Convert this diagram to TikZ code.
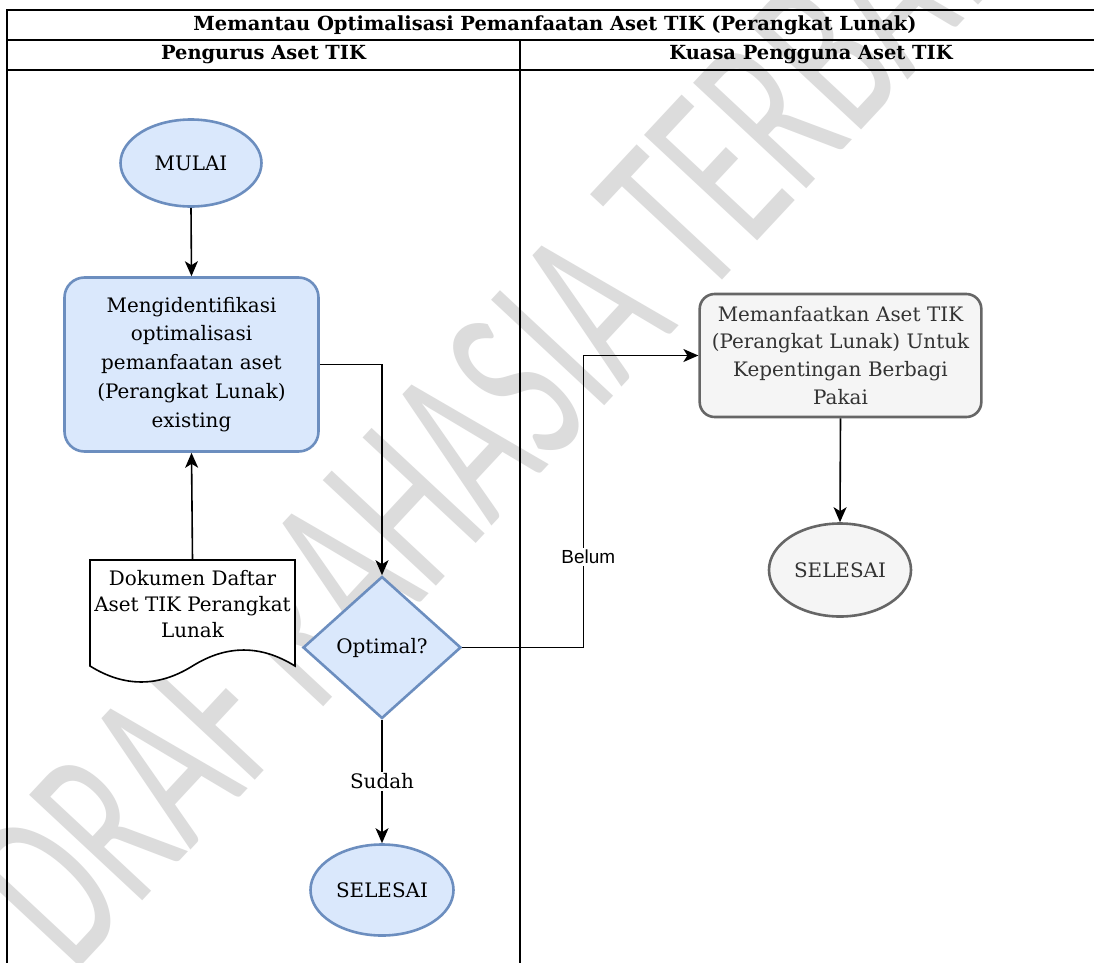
\documentclass[tikz,border=0pt]{standalone}
\usepackage{fontspec}
\setmainfont{DejaVu Serif}
\setsansfont{Liberation Sans}
\newfontfamily\wmfont{Carlito}
\usetikzlibrary{arrows.meta,shapes.geometric}
\definecolor{bluefill}{HTML}{DAE8FC}
\definecolor{bluedraw}{HTML}{6C8EBF}
\definecolor{grayfill}{HTML}{F5F5F5}
\definecolor{graydraw}{HTML}{666666}
\definecolor{graytext}{HTML}{333333}
\definecolor{wmgray}{HTML}{DCDCDC}

\begin{document}
\begin{tikzpicture}[x=1bp,y=-1bp,
  txt/.style={font=\fontsize{20}{29}\selectfont, align=center},
  hdr/.style={font=\bfseries\fontsize{19.5}{23}\selectfont},
  lane/.style={line width=1.6bp},
  flow/.style={line width=1.6bp, -{Stealth[length=15bp,width=13bp,inset=4bp]}},
  bluenode/.style={draw=bluedraw, fill=bluefill, line width=2.6bp, txt},
  graynode/.style={draw=graydraw, fill=grayfill, line width=2.6bp, txt, text=graytext},
  terminal/.style={ellipse, inner sep=0pt},
  lbl/.style={fill=white, inner sep=2bp},
]
\useasboundingbox (0,0) rectangle (1094,963);
\clip (0,0) rectangle (1094,963);
\fill[white] (0,0) rectangle (1094,963);

% watermark behind everything
\node[rotate=47, xscale=0.61, text=wmgray, inner sep=0pt,
  font=\wmfont\fontsize{242}{242}\selectfont] (wm) at (532,370) {DRAF RAHASIA TERBATAS};

% swimlane frame
\draw[lane] (7,10) rectangle (1102,980);
\draw[lane] (7,40) -- (1102,40);
\draw[lane] (7,70) -- (1102,70);
\draw[lane] (520,40) -- (520,980);
\node[hdr] (title) at (555,25) {Memantau Optimalisasi Pemanfaatan Aset TIK (Perangkat Lunak)};
\node[hdr] (lane1) at (263.5,55) {Pengurus Aset TIK};
\node[hdr] (lane2) at (811,55) {Kuasa Pengguna Aset TIK};

% left lane
\node[bluenode, terminal, minimum width=141bp, minimum height=87bp] (start) at (191,163) {MULAI};
\node[bluenode, rectangle, rounded corners=20bp, minimum width=254bp, minimum height=174bp, text width=245bp] (ident) at (191.5,364.5)
  {Mengidentifikasi\\ optimalisasi\\ pemanfaatan aset\\ (Perangkat Lunak)\\ existing};

% document shape
\node[minimum width=205bp, minimum height=124bp, inner sep=0pt] (doc) at (192.5,622) {};
\draw[line width=1.6bp, fill=white] (90,560) -- (295,560) -- (295,666)
  .. controls (260.8,644.7) and (226.7,644.7) .. (192.5,666)
  .. controls (158.3,687.3) and (124.2,687.3) .. (90,666) -- cycle;
\node[txt, font=\fontsize{20}{26}\selectfont, inner sep=0pt] (doctext) at (192.5,604)
  {Dokumen Daftar\\ Aset TIK Perangkat\\ Lunak};

\node[bluenode, diamond, minimum width=158bp, minimum height=142bp, inner sep=0pt] (dec) at (382,647.5) {Optimal?};
\node[bluenode, terminal, minimum width=143bp, minimum height=91bp] (end1) at (382,890) {SELESAI};

% right lane
\node[graynode, rectangle, rounded corners=15bp, minimum width=279bp, minimum height=123bp, text width=275bp,
  font=\fontsize{20}{28}\selectfont] (use) at (840.5,355.5)
  {Memanfaatkan Aset TIK\\ (Perangkat Lunak) Untuk\\ Kepentingan Berbagi\\ Pakai};
\node[graynode, terminal, minimum width=142bp, minimum height=93bp] (end2) at (840,570) {SELESAI};

% connectors
\draw[flow] (start.south) -- (ident.north);
\draw[flow] (doc.north) -- (ident.south);
\draw[flow] (ident.east) -- (dec.north |- ident.east) -- (dec.north);
\draw[flow] (dec.south) -- node[lbl, txt] {Sudah} (end1.north);
\draw[flow] (dec.east) -- ++(121,0) |- node[lbl, pos=0.155, xshift=5bp, font=\sffamily\fontsize{19}{22}\selectfont] {Belum} (use.west);
\draw[flow] (use.south) -- (end2.north);
\end{tikzpicture}
\end{document}
